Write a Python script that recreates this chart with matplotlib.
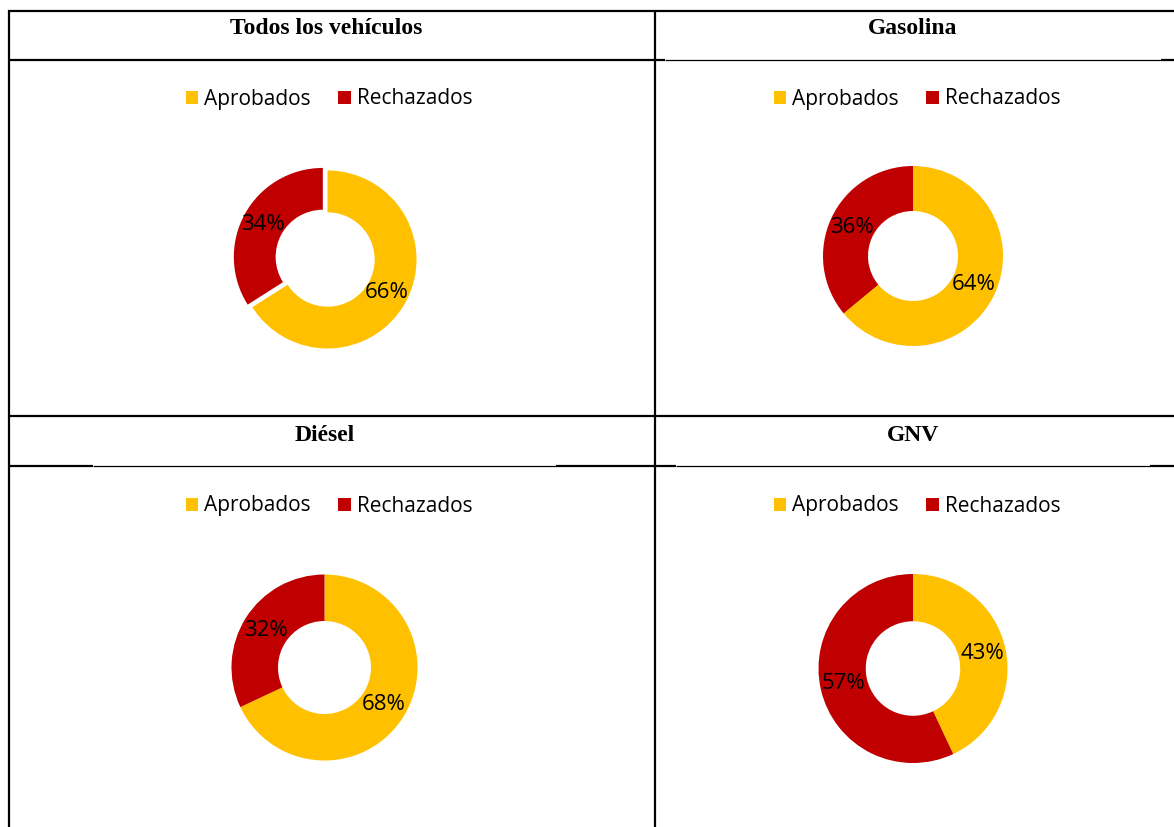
import matplotlib
matplotlib.use("Agg")
import matplotlib.pyplot as plt
from matplotlib.lines import Line2D
from matplotlib.patches import Patch

# Data
titles = ["Todos los vehículos", "Gasolina", "Diésel", "GNV"]
categories = ["Aprobados", "Rechazados"]
aprobados = [66, 64, 68, 43]
rechazados = [34, 36, 32, 57]

colors = ["#FFC000", "#C00000"]

W, H = 1174, 827
fig = plt.figure(figsize=(W / 100, H / 100), dpi=100)
fig.patch.set_facecolor("white")


def fx(x):
    return x / W


def fy(y):
    return 1 - y / H


def hline(x0, x1, y, lw):
    fig.add_artist(Line2D([fx(x0), fx(x1)], [fy(y), fy(y)], transform=fig.transFigure,
                          color="black", lw=lw, solid_capstyle="butt"))


def vline(x, y0, y1, lw):
    fig.add_artist(Line2D([fx(x), fx(x)], [fy(y0), fy(y1)], transform=fig.transFigure,
                          color="black", lw=lw, solid_capstyle="butt"))


# table grid
thick, thin = 1.6, 0.9
hline(8, W, 11, thick)
hline(8, 655, 60, thick)
hline(655, 665, 60, thick)
hline(665, 1161, 60, thin)
hline(1161, W, 60, thick)
hline(8, W, 416.5, thick)
hline(8, 93, 466.5, thick)
hline(93, 556, 466.5, thin)
hline(556, 655, 466.5, thick)
hline(655, 676, 466.5, thick)
hline(676, 1150, 466.5, thin)
hline(1150, W, 466.5, thick)
vline(9, 10, H, thick)
vline(655, 10, H, thick)

# panel layout (pixels): header centre, legend centre, donut centre, radius, hole ratio
header_pos = [(326, 29), (913, 29), (325, 436), (913, 436)]
legend_pos = [(329, 99), (917, 99), (329, 506), (917, 506)]
donut_pos = [(327.5, 259.5), (913, 256), (324.5, 667.5), (913, 668.5)]
radius_px = [89, 90, 93, 94.5]
ring_width = [0.47, 0.5, 0.5, 0.5]
explode = [(0, 0.06), (0, 0), (0, 0), (0, 0)]

handles = [Patch(facecolor=c, edgecolor="none") for c in colors]

for i, title in enumerate(titles):
    hx, hy = header_pos[i]
    fig.text(fx(hx), fy(hy), title, ha="center", va="center",
             fontsize=17, fontweight="bold", family="Liberation Serif")

    lx, ly = legend_pos[i]
    fig.legend(handles, categories, loc="center", bbox_to_anchor=(fx(lx), fy(ly)),
               ncol=2, frameon=False, handlelength=0.6, handleheight=0.6,
               handletextpad=0.3, columnspacing=1.3,
               prop={"family": "Open Sans", "size": 15})

    cx, cy = donut_pos[i]
    r = radius_px[i]
    s = 2 * r * 1.15
    ax = fig.add_axes([fx(cx - s / 2), fy(cy + s / 2), s / W, s / H])
    wedges, texts, autotexts = ax.pie(
        [aprobados[i], rechazados[i]], colors=colors, startangle=90,
        counterclock=False, radius=1, explode=explode[i],
        autopct="%1.0f%%", pctdistance=1 - ring_width[i] / 2,
        wedgeprops={"width": ring_width[i], "linewidth": 0},
        textprops={"family": "Open Sans", "size": 16, "color": "black"})
    ax.set_xlim(-1.15, 1.15)
    ax.set_ylim(-1.15, 1.15)
    ax.set_aspect("equal")
    ax.axis("off")

fig.savefig("out.png", dpi=100, facecolor="white")
